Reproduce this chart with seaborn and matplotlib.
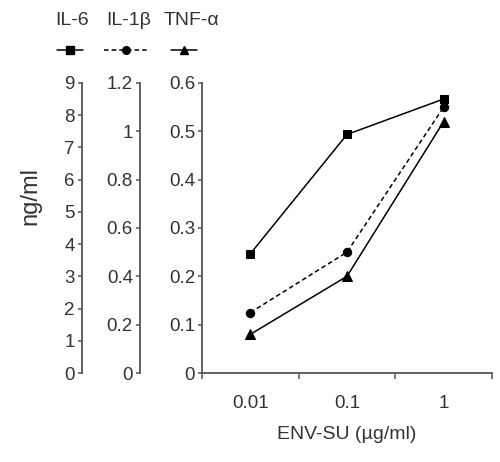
import pandas as pd
import seaborn as sns
import matplotlib.pyplot as plt
from matplotlib.lines import Line2D

# doses of ENV-SU (ug/ml) and cytokine levels (ng/ml)
doses = ['0.01', '0.1', '1']
il6 = [3.7, 7.4, 8.5]
il1b = [0.25, 0.50, 1.10]
tnfa = [0.08, 0.20, 0.52]

sns.set_style('ticks')
plt.rcParams['font.family'] = ['Liberation Sans', 'DejaVu Sans']
txt = '#333333'
spc = '#555555'

df = pd.DataFrame({'pos': range(len(doses)), 'dose': doses,
                   'IL-6': il6, 'IL-1b': il1b, 'TNF-a': tnfa})

fig = plt.figure(figsize=(5, 4.62), dpi=100)
ax = fig.add_axes([0.404, 0.1926, 0.58, 0.628])
ax2 = ax.twinx()
ax3 = ax.twinx()

# TNF-a on the main axis
sns.lineplot(data=df, x='pos', y='TNF-a', ax=ax, color='black', lw=1.1,
             marker='^', markersize=6.5, markeredgecolor='black')
sns.lineplot(data=df, x='pos', y='IL-1b', ax=ax2, color='black', lw=1.1,
             linestyle=(0, (3, 2)), marker='o', markersize=6, markeredgecolor='black')
sns.lineplot(data=df, x='pos', y='IL-6', ax=ax3, color='black', lw=1.1,
             marker='s', markersize=5.5, markeredgecolor='black')

ax.set_ylim(0, 0.6)
ax.set_yticks([0, 0.1, 0.2, 0.3, 0.4, 0.5, 0.6])
ax.set_yticklabels(['0', '0.1', '0.2', '0.3', '0.4', '0.5', '0.6'])
ax2.set_ylim(0, 1.2)
ax2.set_yticks([0, 0.2, 0.4, 0.6, 0.8, 1.0, 1.2])
ax2.set_yticklabels(['0', '0.2', '0.4', '0.6', '0.8', '1', '1.2'])
ax3.set_ylim(0, 9)
ax3.set_yticks(range(10))

ax.set_xlim(-0.5, len(doses) - 0.5)
ax.set_xticks([i - 0.5 for i in range(len(doses) + 1)])
ax.set_xticklabels([])
ax.set_xticks(range(len(doses)), minor=True)
ax.set_xticklabels(doses, minor=True)
ax.tick_params(axis='x', which='minor', length=0, pad=16)
ax.tick_params(axis='x', which='major', length=4, width=1.1, color=spc)

for a, off in [(ax2, -0.214), (ax3, -0.414)]:
    for s in ['right', 'top', 'bottom']:
        a.spines[s].set_visible(False)
    a.spines['left'].set_visible(True)
    a.spines['left'].set_position(('axes', off))
    a.yaxis.set_label_position('left')
    a.yaxis.set_ticks_position('left')
    a.set_ylabel('')
    a.set_xlabel('')

for s in ['right', 'top']:
    ax.spines[s].set_visible(False)

for a in [ax, ax2, ax3]:
    a.spines['left'].set_color(spc)
    a.spines['left'].set_linewidth(1.3)
    a.tick_params(axis='y', length=3, width=1.1, color=spc, pad=2,
                  labelsize=13.5, labelcolor=txt)
    a.tick_params(axis='x', which='both', labelsize=13.5, labelcolor=txt)
ax.spines['bottom'].set_color(spc)
ax.spines['bottom'].set_linewidth(1.3)

ax.set_ylabel('')
ax.set_xlabel('ENV-SU (\u00b5g/ml)', fontsize=14, color=txt, labelpad=10)
fig.text(0.06, 0.575, 'ng/ml', rotation=90, fontsize=17, color=txt,
         ha='center', va='center')

# legend: names above small marker samples
keys = [('IL-6', 's', '-', 0.145, 0.14), ('IL-1\u03b2', 'o', (0, (3, 2)), 0.257, 0.252),
        ('TNF-\u03b1', '^', '-', 0.384, 0.368)]
for name, mk, ls, xt, xc in keys:
    fig.text(xt, 0.955, name, fontsize=14, color=txt, ha='center', va='center')
    half = 0.044 if name.startswith('IL-1') else 0.026
    fig.add_artist(Line2D([xc - half, xc + half], [0.892, 0.892], color='black',
                          lw=1.1, linestyle=ls, transform=fig.transFigure))
    fig.add_artist(Line2D([xc], [0.892], color='black', marker=mk,
                          markersize=5.5, linestyle='none',
                          transform=fig.transFigure))

fig.savefig('out.png', dpi=100)
